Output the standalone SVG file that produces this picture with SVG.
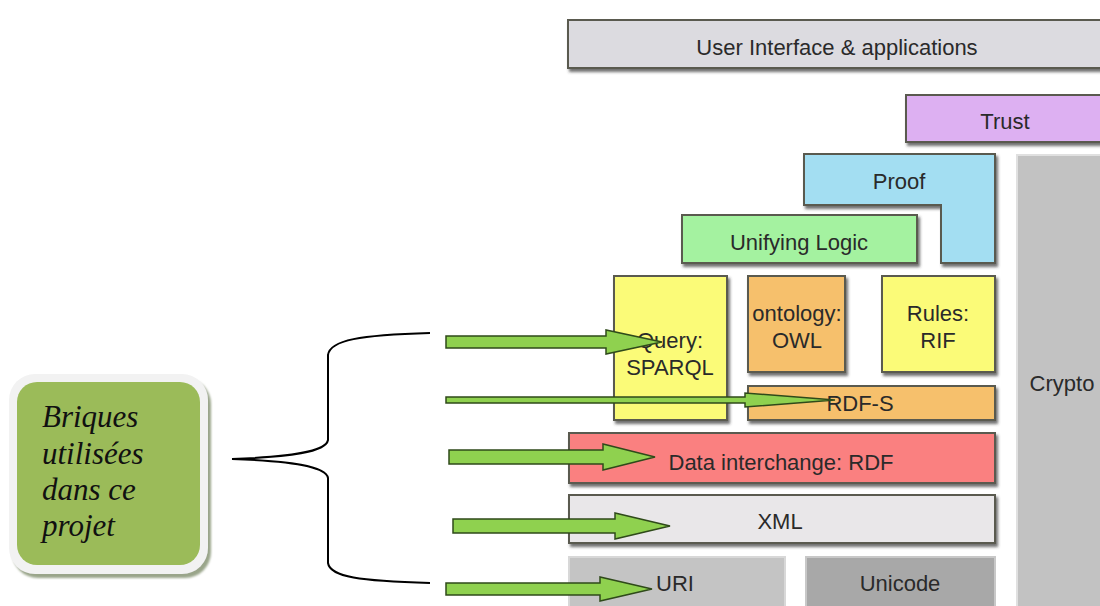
<svg xmlns="http://www.w3.org/2000/svg" width="1100" height="606" viewBox="0 0 1100 606">
<defs>
<filter id="sh" x="-10%" y="-20%" width="130%" height="160%"><feDropShadow dx="2" dy="3" stdDeviation="1.5" flood-color="#333" flood-opacity="0.7"/></filter>
<filter id="sh2" x="-10%" y="-10%" width="130%" height="130%"><feDropShadow dx="3" dy="4" stdDeviation="1" flood-color="#9aa58a" flood-opacity="1"/></filter>
</defs>
<style>
.b{stroke:#5a5a50;stroke-width:2;filter:url(#sh)}
.t{font-family:"Liberation Sans",Arial,sans-serif;font-size:22px;fill:#2a2a2a;text-anchor:middle}
.ar{fill:#8fd14f;stroke:#2f4a1a;stroke-width:1.5;stroke-linejoin:miter}
.it{font-family:"Liberation Serif","Times New Roman",serif;font-style:italic;font-size:31px;fill:#111}
</style>
<rect width="1100" height="606" fill="#ffffff"/>
<g id="ui"><rect class="b" x="568" y="20" width="540" height="48" fill="#dcdbe0"/><text class="t" x="837" y="55">User Interface &amp; applications</text></g>
<g id="trust"><rect class="b" x="906" y="95" width="200" height="47" fill="#ddb0f2"/><text class="t" x="1005" y="129">Trust</text></g>
<g id="crypto"><rect x="1017" y="155" width="90" height="460" fill="#c2c2c2" stroke="#e0e0e0" stroke-width="2"/><text class="t" x="1062" y="391">Crypto</text></g>
<g id="proof"><path class="b" d="M804 154 H995 V263 H941 V205 H804 Z" fill="#a3def2"/><text class="t" x="899" y="189">Proof</text></g>
<g id="logic"><rect class="b" x="682" y="215" width="235" height="48" fill="#a4f2a0"/><text class="t" x="799" y="250">Unifying Logic</text></g>
<g id="query"><rect class="b" x="614" y="276" width="113" height="144" fill="#fbfb78"/><text class="t" x="670" y="348">Query:</text><text class="t" x="670" y="375">SPARQL</text></g>
<g id="owl"><rect class="b" x="748" y="276" width="97" height="96" fill="#f6c06c"/><text class="t" x="797" y="321">ontology:</text><text class="t" x="797" y="348">OWL</text></g>
<g id="rif"><rect class="b" x="882" y="276" width="113" height="96" fill="#fbfb78"/><text class="t" x="938" y="321">Rules:</text><text class="t" x="938" y="348">RIF</text></g>
<g id="rdfs"><rect class="b" x="748" y="386" width="247" height="34" fill="#f6c06c"/><text class="t" x="860" y="411">RDF-S</text></g>
<g id="rdf"><rect class="b" x="569" y="433" width="426" height="50" fill="#fa8080"/><text class="t" x="781" y="470">Data interchange: RDF</text></g>
<g id="xml"><rect class="b" x="569" y="495" width="426" height="48" fill="#e9e7e9"/><text class="t" x="780" y="529">XML</text></g>
<g id="uri"><rect x="569" y="557" width="216" height="55" fill="#c4c4c4" stroke="#d8d8d8" stroke-width="2"/><text class="t" x="675" y="591">URI</text></g>
<g id="unicode"><rect x="806" y="557" width="189" height="55" fill="#a8a8a8" stroke="#c8c8c8" stroke-width="2"/><text class="t" x="900" y="591">Unicode</text></g>
<g id="briques">
<rect x="9" y="374" width="199" height="200" rx="26" fill="#f2f2f2" filter="url(#sh2)"/>
<rect x="17" y="382" width="183" height="183" rx="20" fill="#9bbb59"/>
<text class="it" x="42" y="427">Briques</text>
<text class="it" x="42" y="464">utilisées</text>
<text class="it" x="42" y="500">dans ce</text>
<text class="it" x="42" y="536">projet</text>
</g>
<g id="connectors">
<path d="M430 333 C360 335 330 340 328 355 V440 C326 452 290 457 232 459 C290 461 326 466 328 478 V563 C330 577 360 581 430 583" fill="none" stroke="#000" stroke-width="2"/>
<path class="ar" d="M446 336 H606 V330 L662 342 L606 354 V348 H446 Z"/>
<path class="ar" d="M446 397 H745 V393 L835 400 L745 407 V403 H446 Z"/>
<path class="ar" d="M449 450 H603 V444 L655 457 L603 470 V464 H449 Z"/>
<path class="ar" d="M453 519 H615 V513 L670 526 L615 539 V533 H453 Z"/>
<path class="ar" d="M446 583 H600 V577 L652 589 L600 601 V595 H446 Z"/>
</g>
</svg>
